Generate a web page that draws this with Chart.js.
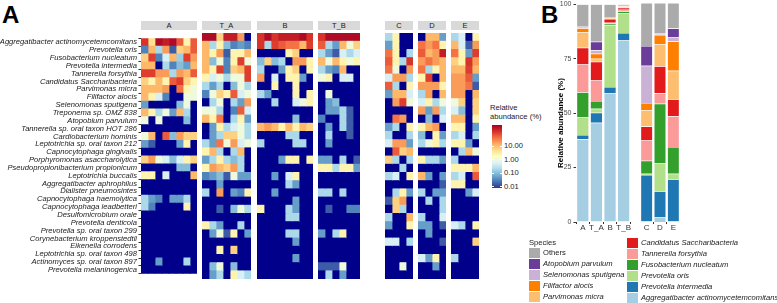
<!DOCTYPE html>
<html>
<head>
<meta charset="utf-8">
<script src="https://cdn.jsdelivr.net/npm/chart.js@4.4.1/dist/chart.umd.min.js"></script>
<style>
  body { margin: 0; width: 777px; height: 303px; background: #fff; position: relative; overflow: hidden;
         font-family: "Liberation Sans", Arial, sans-serif; color: #1a1a1a; }
  .abs { position: absolute; }
  .strip { position: absolute; top: 21px; height: 9px; background: #d9d9d9; font-size: 7.5px; line-height: 9px; text-align: center; color: #1a1a1a; }
  .tag { position: absolute; font-weight: bold; font-size: 24px; line-height: 24px; color: #000; }
  .lg { position: absolute; font-size: 7.6px; line-height: 10px; white-space: nowrap; color: #1a1a1a; }
  .key { position: absolute; width: 11px; height: 10px; }
  .ytitle { position: absolute; left: 560px; top: 123px; font-weight: bold; font-size: 8px; white-space: nowrap; color: #000;
            transform: translate(-50%, -50%) rotate(-90deg); }
</style>
</head>
<body>
<div class="tag" style="left:2px;top:3px">A</div>
<div class="tag" style="left:541px;top:3px">B</div>
<div id="root"></div>

<script>
// ---------- heatmap data (relative abundance, %), rows follow speciesHeat ----------
const speciesHeat = [
  "Aggregatibacter actinomycetemcomitans", "Prevotella oris", "Fusobacterium nucleatum",
  "Prevotella intermedia", "Tannerella forsythia", "Candidatus Saccharibacteria",
  "Parvimonas micra", "Filifactor alocis", "Selenomonas sputigena", "Treponema sp. OMZ 838",
  "Atopobium parvulum", "Tannerella sp. oral taxon HOT 286", "Cardiobacterium hominis",
  "Leptotrichia sp. oral taxon 212", "Capnocytophaga gingivalis", "Porphyromonas asaccharolytica",
  "Pseudopropionibacterium propionicum", "Leptotrichia buccalis", "Aggregatibacter aphrophilus",
  "Dialister pneumosintes", "Capnocytophaga haemolytica", "Capnocytophaga leadbetteri",
  "Desulfomicrobium orale", "Prevotella denticola", "Prevotella sp. oral taxon 299",
  "Corynebacterium kroppenstedtii", "Eikenella corrodens", "Leptotrichia sp. oral taxon 498",
  "Actinomyces sp. oral taxon 897", "Prevotella melaninogenica"
];

const heatA = [
  [120, 5, 300, 200, 300, 60, 2.5, 60],
  [0.03, 12, 0.2, 20, 0.015, 7, 12, 60],
  [7, 100, 0.03, 0.5, 12, 0.15, 100, 20],
  [12, 12, 0, 0.2, 0.03, 0.1, 0.05, 12],
  [100, 100, 20, 20, 0.2, 20, 12, 60],
  [7, 2.5, 12, 2.5, 60, 100, 7, 2.5],
  [12, 12, 12, 20, 0, 40, 2.5, 1],
  [12, 2.5, 0.5, 0.03, 0, 0, 1, 1],
  [0.05, 0, 0, 0, 0, 0.1, 1, 0],
  [12, 2.5, 0.2, 1, 0.05, 12, 0.2, 0],
  [1, 0, 1, 0, 0, 0, 0.1, 0],
  [0, 0, 0, 0, 0, 0, 0, 0],
  [1, 12, 0, 60, 0.1, 20, 7, 7],
  [0.05, 0.015, 0, 0, 0, 0.05, 2.5, 0],
  [0, 0, 0, 0, 0, 0, 0, 0],
  [7, 20, 1, 0.5, 0.1, 0.5, 2.5, 7],
  [0, 0, 0, 0, 0, 0.1, 0.1, 0],
  [2.5, 2.5, 0, 0.5, 0, 0, 0, 12],
  [0, 0, 0, 0, 0, 0, 0, 0],
  [0, 0, 0, 0, 0, 0, 0, 0],
  [0.2, 0.05, 0.03, 0, 0.05, 0.05, 0.2, 0],
  [0.2, 0.03, 0, 0, 0, 0, 2.5, 0],
  [0, 0, 0, 0, 0, 0, 0, 0],
  [0, 0, 0, 0, 0, 0, 0, 0],
  [0, 0, 0, 0, 0, 0, 0, 0],
  [0, 0, 0, 0, 0, 0, 0, 0],
  [0, 0, 0, 0, 0, 0, 0, 0],
  [0, 0, 0, 0, 0, 0, 0, 0],
  [0, 0, 0.05, 0, 0, 0, 0.2, 0],
  [0, 0, 0, 0, 0, 0, 0, 0]
];

const heatTA = [
  [300, 300, 7, 200, 200, 20, 0],
  [12, 0.2, 2.5, 0.1, 0.03, 0.05, 0.03],
  [12, 2.5, 20, 0.015, 2.5, 2.5, 12],
  [12, 0.1, 1, 0.03, 2.5, 100, 1],
  [12, 2.5, 100, 0.03, 7, 12, 100],
  [2.5, 0.5, 1, 0.2, 1, 1, 100],
  [0.2, 0.05, 0.2, 0, 0.1, 1, 0.2],
  [0.03, 1, 7, 2.5, 60, 0.5, 1],
  [0, 0.2, 1, 0, 0.2, 0.05, 20],
  [1, 1, 0.2, 0, 0.03, 60, 0.5],
  [12, 2.5, 40, 0, 0.2, 2.5, 0.05],
  [0, 0.05, 2.5, 0.2, 0.5, 1, 0.2],
  [0, 0.05, 0.2, 7, 7, 1, 0.2],
  [0.2, 0.05, 40, 1, 20, 0.5, 1],
  [2.5, 12, 0.2, 0, 0.2, 12, 0],
  [0.05, 0.2, 2.5, 0.2, 0.1, 0.2, 0],
  [2.5, 20, 12, 7, 20, 0.2, 0],
  [0.03, 0.05, 0.1, 0.015, 1, 0.05, 0.05],
  [0, 0, 0.05, 0, 0, 0, 0],
  [0.2, 0, 20, 0, 0.05, 0.03, 2.5],
  [0, 0, 0, 0, 0, 0, 0],
  [0, 0, 0.015, 0, 0.1, 1, 0.2],
  [0, 0, 0, 0, 0, 0, 0],
  [2.5, 0.2, 0.05, 0, 0, 0.2, 0],
  [0, 0.05, 1, 0.015, 2.5, 0, 0.05],
  [0, 0, 0, 0, 0, 0, 0],
  [0, 0, 2.5, 0, 7, 0, 0],
  [0, 0, 0, 0, 0, 0, 0],
  [0, 0.1, 1, 0, 0.1, 0, 0],
  [0, 0.05, 0.2, 0, 2.5, 0.5, 0.2]
];

const heatB = [
  [120, 300, 120, 200, 200, 200, 300, 120],
  [120, 0.2, 100, 60, 40, 40, 12, 100],
  [0, 0, 0, 0, 2.5, 7, 0, 0],
  [0.1, 7, 0.1, 0.2, 0, 20, 20, 2.5],
  [0.2, 0, 0, 0.05, 2.5, 7, 0, 2.5],
  [20, 0, 0.5, 0, 2.5, 2.5, 0.05, 0],
  [0, 0, 2.5, 0, 0, 2.5, 0, 0],
  [0.2, 0.05, 0, 0, 0, 2.5, 0, 2.5],
  [0, 0, 0.2, 0, 0, 0.5, 1, 2.5],
  [0, 0, 0, 0, 0, 0, 0, 0],
  [0, 0, 0, 0, 0, 0.1, 0, 0],
  [12, 20, 12, 2.5, 12, 2.5, 12, 7],
  [0, 0, 0, 0, 0.2, 0.2, 0, 0],
  [0.2, 0, 0, 0, 0, 0.2, 0.2, 0],
  [0, 0, 0, 0, 0, 0, 0, 0],
  [0, 0, 0, 0.05, 2.5, 2.5, 0, 2.5],
  [0, 0, 0, 0, 0, 0, 0, 0],
  [0, 0, 0.05, 0, 0.5, 2.5, 0, 0],
  [0, 0, 0, 0, 0.2, 0.05, 0, 0],
  [0, 0, 0.05, 0, 0, 0, 0, 0],
  [0, 0, 0, 0, 0, 0.05, 0, 0],
  [2.5, 0, 0, 0, 0.2, 0.05, 0, 0],
  [0, 0, 0, 0, 0.2, 0.2, 0, 0],
  [0, 0, 0, 0, 0, 0, 0, 0],
  [0, 0, 0, 0, 0.2, 0.2, 0, 0],
  [0, 0, 0, 0, 0, 0.05, 0, 0],
  [0, 0, 0, 0, 0, 0, 0, 0],
  [0, 0, 0, 0, 0, 0.05, 0, 0],
  [0, 0, 0, 0, 0, 0, 0, 0],
  [0, 0, 0, 0, 0, 0, 0, 0]
];

const heatTB = [
  [120, 300, 300, 300, 300, 300],
  [60, 0.2, 0.05, 12, 1, 7],
  [0.2, 0.05, 0.015, 0.5, 0.2, 0.5],
  [12, 1, 12, 2.5, 1, 2.5],
  [0.2, 0.05, 0.03, 12, 0, 0],
  [1, 2.5, 0, 0.5, 0.5, 0],
  [0, 0, 0, 0, 0, 0],
  [0, 1, 0, 0, 0, 0],
  [0, 0.05, 0.1, 0, 0, 0],
  [0, 0.05, 0.05, 0.2, 0.015, 0],
  [0.03, 0, 0, 0.2, 0.015, 0],
  [0, 0.05, 0, 0.2, 0.015, 0],
  [0, 0.2, 0, 0, 0.015, 0],
  [0, 0.05, 0, 0, 0, 0],
  [0, 0, 0, 0, 0, 0],
  [0.05, 0.05, 0, 0.2, 0, 0.015],
  [2.5, 2.5, 0.2, 2.5, 2.5, 0.05],
  [0, 0, 0, 0, 0, 0],
  [0, 0, 0, 0, 0, 0],
  [0.2, 0.2, 0, 0.2, 0, 0],
  [0, 0, 0, 0, 0, 0],
  [0, 0.015, 0, 0, 0.03, 0.03],
  [0, 0, 0, 0, 0, 0],
  [0, 0, 0, 0, 0, 0],
  [0.05, 0, 0.2, 2.5, 0, 0],
  [0, 0, 0, 0, 0, 0],
  [0, 0, 0, 0, 0, 0],
  [0, 0, 0, 0, 0, 0],
  [0.015, 0.015, 0.015, 1, 0, 0],
  [0, 0.2, 0, 0.05, 0, 0]
];

const heatC = [
  [0.2, 2.5, 0, 0], [0.05, 2.5, 0, 0], [40, 2.5, 0, 0.2], [60, 2.5, 0.2, 120],
  [40, 1, 0, 20], [0.5, 20, 20, 0.2], [60, 0.2, 0, 2.5], [0.05, 12, 12, 0.5],
  [0, 20, 100, 1], [0, 0, 0, 0], [0, 40, 20, 0], [0.05, 0.2, 0, 2.5],
  [0.2, 0, 0, 0.2], [0.5, 20, 20, 0.05], [0, 60, 7, 12], [7, 0.2, 0, 0.2],
  [0, 0, 0.2, 0], [0.2, 0.5, 0, 2.5], [0, 0, 0, 0], [0, 0.2, 2.5, 0.05],
  [0.015, 7, 20, 0], [0, 7, 0.2, 0], [0.2, 0, 0, 12], [0.05, 0, 0, 2.5],
  [0, 0, 0, 0], [0.5, 0.5, 0, 0.2], [0, 0, 0, 0], [0, 0, 0, 0],
  [0, 0, 1, 0], [0, 0, 0, 0]
];

const heatD = [
  [0, 12, 12, 0.05], [40, 20, 40, 2.5], [60, 12, 20, 200], [20, 40, 20, 12],
  [40, 0.2, 2.5, 12], [2.5, 100, 0, 12], [20, 20, 20, 2.5], [0.2, 20, 0, 12],
  [0.5, 2.5, 0.2, 1], [20, 0.05, 20, 0.2], [0, 0.1, 0, 0.5], [2.5, 12, 20, 0],
  [0.1, 0, 2.5, 0.05], [0.2, 1, 2.5, 0.2], [0, 0, 0, 0], [2.5, 0.2, 0.2, 0.05],
  [0, 0, 0, 0], [12, 0.05, 0, 0.05], [0, 0, 0, 0.015], [0.2, 0, 0.05, 0.05],
  [0, 0.2, 0, 0.2], [0, 0, 0, 0.2], [0.2, 0, 0, 0.5], [0.05, 0.05, 0, 0.015],
  [0, 0.05, 0, 0], [0, 0, 0, 0.015], [0, 0, 0, 0], [0.5, 0.05, 2.5, 0],
  [0, 0, 0.05, 0], [0, 0, 0, 0]
];

const heatE = [
  [0.2, 0.5, 0, 2.5], [12, 0.5, 0.015, 20], [40, 2.5, 0.05, 100], [7, 2.5, 120, 20],
  [12, 12, 100, 12], [20, 20, 60, 0.05], [20, 20, 40, 0.015], [20, 20, 0, 12],
  [1, 7, 0, 7], [0.5, 0.1, 0, 7], [12, 12, 0, 2.5], [2.5, 2.5, 0, 0.05],
  [0.2, 0.5, 0, 0.2], [2.5, 2.5, 0.05, 0], [0, 0.2, 12, 1], [0.2, 0, 0, 0],
  [2.5, 2.5, 2.5, 12], [0.2, 0.5, 0, 60], [2.5, 2.5, 0, 0], [0, 0, 0.05, 0.5],
  [0, 0, 0, 0], [0, 0, 0, 0], [0, 0, 0, 0], [0.5, 0.2, 0, 2.5],
  [0, 0, 0, 0], [0, 0, 0, 7], [0, 0, 0, 0], [0.2, 0, 0, 0],
  [0, 0, 0, 0], [0, 0, 0, 0]
];

const legendTicks = [10, 1, 0.1, 0.01];

// ---------- stacked bar data (mean relative abundance, %) ----------
const samples = ["A", "T_A", "B", "T_B", "C", "D", "E"];
const speciesStack = [
  "Aggregatibacter actinomycetemcomitans", "Prevotella intermedia", "Prevotella oris",
  "Fusobacterium nucleatum", "Tannerella forsythia", "Candidatus Saccharibacteria",
  "Parvimonas micra", "Filifactor alocis", "Selenomonas sputigena", "Atopobium parvulum", "Others"
];
const abAggr   = [38.0, 45.6, 59.0, 83.6, 0.5, 2.0, 0.5];
const abPInt   = [2.0, 4.6, 3.0, 3.2, 21.0, 12.0, 19.0];
const abPOris  = [8.0, 1.8, 28.4, 8.9, 0.5, 12.9, 2.5];
const abFuso   = [11.6, 3.5, 0.6, 1.1, 6.0, 27.1, 12.2];
const abTann   = [12.9, 9.7, 0.5, 0.6, 9.5, 4.8, 14.1];
const abCand   = [7.5, 8.4, 1.7, 1.0, 6.1, 12.3, 7.8];
const abParv   = [7.0, 1.4, 0.5, 0.4, 7.3, 9.9, 13.0];
const abFili   = [2.0, 2.2, 0.3, 0.3, 3.4, 4.4, 13.3];
const abSelen  = [0.3, 1.7, 0.0, 0.1, 17.0, 0.4, 1.9];
const abAtop   = [0.4, 3.9, 0.0, 0.1, 9.1, 0.4, 4.0];
const abOthers = [10.3, 17.2, 6.0, 0.7, 19.6, 13.8, 11.7];
const stackValues = [abAggr, abPInt, abPOris, abFuso, abTann, abCand, abParv, abFili, abSelen, abAtop, abOthers];
const stackColors = ["#a6cee3", "#1f78b4", "#b2df8a", "#33a02c", "#fb9a99", "#e31a1c",
                     "#fdbf6f", "#ff7f00", "#cab2d6", "#6a3d9a", "#ababab"];

// ---------- colour scale ----------
const RDYLBU = ["#313695", "#4575b4", "#74add1", "#abd9e9", "#e0f3f8", "#ffffbf",
                "#fee090", "#fdae61", "#f46d43", "#d73027", "#a50026"];
const ZERO_COLOR = "#00008b";
const LOG_MIN = -2.1, LOG_MAX = 2.57;
const FONT = "'Liberation Sans', Arial, sans-serif";

function hexRgb(h) {
  const n = parseInt(h.slice(1), 16);
  return [(n >> 16) & 255, (n >> 8) & 255, n & 255];
}

function cellColor(v) {
  if (!(v > 0)) return ZERO_COLOR;
  let t = (Math.log10(v) - LOG_MIN) / (LOG_MAX - LOG_MIN);
  t = Math.min(1, Math.max(0, t)) * (RDYLBU.length - 1);
  const i = Math.min(Math.floor(t), RDYLBU.length - 2);
  const f = t - i;
  const a = hexRgb(RDYLBU[i]), b = hexRgb(RDYLBU[i + 1]);
  const c = a.map((x, k) => Math.round(x + (b[k] - x) * f));
  return `rgb(${c[0]},${c[1]},${c[2]})`;
}

// ---------- layout ----------
const root = document.getElementById("root");
const HEAT_TOP = 33, HEAT_H = 246, CELL_W = 7, LABEL_W = 141;

const heatPanels = [
  { name: "A", rows: heatA, x: 141 },
  { name: "T_A", rows: heatTA, x: 202 },
  { name: "B", rows: heatB, x: 257 },
  { name: "T_B", rows: heatTB, x: 318 },
  { name: "C", rows: heatC, x: 385 },
  { name: "D", rows: heatD, x: 418 },
  { name: "E", rows: heatE, x: 451 }
];

function addCanvas(left, top, w, h) {
  const c = document.createElement("canvas");
  c.width = w; c.height = h;
  c.className = "abs";
  c.style.left = left + "px"; c.style.top = top + "px";
  c.style.width = w + "px"; c.style.height = h + "px";
  root.appendChild(c);
  return c;
}

function addDiv(cls, css, text) {
  const d = document.createElement("div");
  d.className = cls;
  d.style.cssText = css;
  if (text !== undefined) d.textContent = text;
  root.appendChild(d);
  return d;
}

function drawHeat(panel, withLabels) {
  const nCol = panel.rows[0].length;
  const w = nCol * CELL_W;
  const left = withLabels ? panel.x - LABEL_W : panel.x;
  const canvas = addCanvas(left, HEAT_TOP, w + (withLabels ? LABEL_W : 0), HEAT_H);
  addDiv("strip", `left:${panel.x}px;width:${w}px`, panel.name);

  const datasets = [];
  for (let j = 0; j < nCol; j++) {
    datasets.push({
      data: speciesHeat.map(() => 1),
      backgroundColor: panel.rows.map(r => cellColor(r[j])),
      borderWidth: 0,
      barPercentage: 1,
      categoryPercentage: 1,
      inflateAmount: 0.4
    });
  }

  const yScale = {
    stacked: true,
    display: withLabels,
    border: { display: false },
    grid: { drawOnChartArea: false, drawTicks: true, tickLength: 2.5, color: "#333" },
    ticks: {
      autoSkip: false,
      padding: 1.5,
      color: "#1a1a1a",
      font: { family: FONT, size: 7.6, style: "italic", lineHeight: 1 }
    }
  };
  if (withLabels) yScale.afterFit = s => { s.width = LABEL_W; };

  return new Chart(canvas, {
    type: "bar",
    data: { labels: speciesHeat, datasets },
    options: {
      indexAxis: "y",
      responsive: false,
      animation: false,
      layout: { padding: 0 },
      plugins: { legend: { display: false }, tooltip: { enabled: false } },
      scales: {
        x: { stacked: true, min: 0, max: nCol, display: false },
        y: yScale
      }
    }
  });
}

heatPanels.forEach((p, i) => drawHeat(p, i === 0));

// ---------- heatmap colour legend ----------
const CB_LEFT = 492, CB_TOP = 125, CB_H = 63, CB_W = 10;
addDiv("lg", "left:490px;top:103px;line-height:9px", "Relative");
addDiv("lg", "left:490px;top:112px;line-height:9px", "abundance (%)");
addDiv("abs", `left:${CB_LEFT}px;top:${CB_TOP}px;width:${CB_W}px;height:${CB_H}px;` +
  `background:linear-gradient(to top, ${RDYLBU.join(",")})`);
legendTicks.forEach(v => {
  const y = CB_TOP + CB_H - (Math.log10(v) - LOG_MIN) / (LOG_MAX - LOG_MIN) * CB_H;
  addDiv("lg", `left:${CB_LEFT + CB_W + 2}px;top:${y - 5}px`, v.toFixed(2));
  addDiv("abs", `left:${CB_LEFT}px;top:${y - 0.5}px;width:2px;height:1px;background:#fff`);
  addDiv("abs", `left:${CB_LEFT + CB_W - 2}px;top:${y - 0.5}px;width:2px;height:1px;background:#fff`);
});

// ---------- stacked bars (two facets) ----------
function stackedChart(canvas, idx, showY) {
  const yScale = {
    stacked: true,
    display: showY,
    min: 0, max: 100,
    border: { display: false },
    grid: { drawOnChartArea: false, drawTicks: true, tickLength: 2.5, color: "#333" },
    ticks: { stepSize: 25, padding: 2, color: "#4d4d4d", font: { family: FONT, size: 7 } }
  };
  if (showY) yScale.afterFit = s => { s.width = 29; };

  return new Chart(canvas, {
    type: "bar",
    data: {
      labels: idx.map(k => samples[k]),
      datasets: speciesStack.map((name, s) => ({
        label: name,
        data: idx.map(k => stackValues[s][k]),
        backgroundColor: stackColors[s],
        borderColor: "#ffffff",
        borderWidth: 0.5,
        barPercentage: 0.9,
        categoryPercentage: 1
      }))
    },
    options: {
      responsive: false,
      animation: false,
      layout: { padding: { top: 5, left: 0, right: 0, bottom: 0 } },
      plugins: { legend: { display: false }, tooltip: { enabled: false } },
      scales: {
        x: {
          stacked: true,
          border: { display: false },
          grid: { drawOnChartArea: false, drawTicks: true, tickLength: 2, color: "#333" },
          ticks: { padding: 0, maxRotation: 0, minRotation: 0, autoSkip: false,
                   color: "#333", font: { family: FONT, size: 8, lineHeight: 1 } },
          afterFit: s => { s.height = 16; }
        },
        y: yScale
      }
    }
  });
}

stackedChart(addCanvas(547, -2, 84, 240), [0, 1, 2, 3], true);
stackedChart(addCanvas(640, -2, 40, 240), [4, 5, 6], false);
addDiv("ytitle", "", "Relative abundance (%)");

// ---------- species legend ----------
addDiv("lg", "left:529px;top:238px", "Species");
const legendOrder = speciesStack.slice().reverse();
legendOrder.forEach((name, i) => {
  const s = speciesStack.indexOf(name);
  const col = i < 5 ? 0 : 1;
  const row = col === 0 ? i : i - 5;
  const kx = col === 0 ? 529 : 627;
  const ky = col === 0 ? 248 + row * 10.9 : 238 + row * 10.9;
  addDiv("key", `left:${kx}px;top:${ky}px;background:${stackColors[s]}`);
  addDiv("lg", `left:${kx + 14}px;top:${ky}px;font-style:${name === "Others" ? "normal" : "italic"}`, name);
});
</script>
</body>
</html>
